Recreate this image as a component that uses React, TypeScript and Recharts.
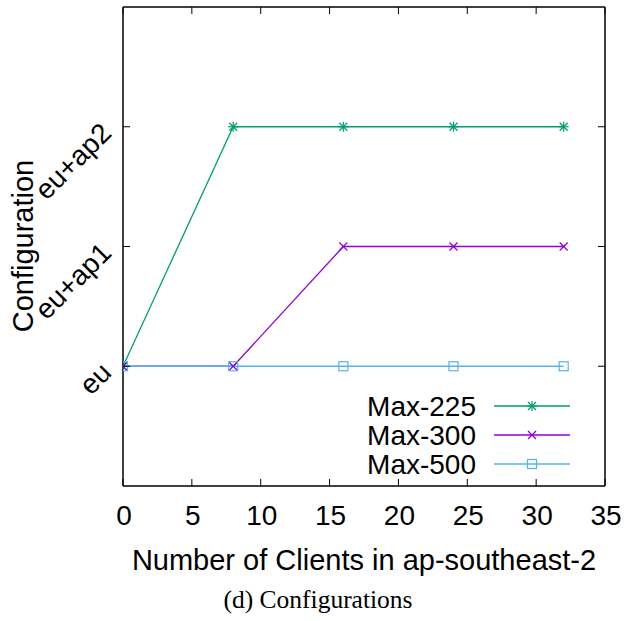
import { CartesianGrid, Line, LineChart, XAxis, YAxis } from "recharts";

// Clients placed in ap-southeast-2 and the configuration chosen for each cap.
const CLIENTS = [0, 8, 16, 24, 32];
const MAX_225 = [0, 2, 2, 2, 2];
const MAX_300 = [0, 0, 1, 1, 1];
const MAX_500 = [0, 0, 0, 0, 0];

const X_TICKS = [0, 5, 10, 15, 20, 25, 30, 35];
const CONFIG_TICKS = [0, 1, 2];
const CONFIG_LABELS = ["eu", "eu+ap1", "eu+ap2"];

type MarkerKind = "star" | "cross" | "square";

const SERIES: Array<{ key: string; name: string; color: string; marker: MarkerKind }> = [
  { key: "m225", name: "Max-225", color: "#009e73", marker: "star" },
  { key: "m300", name: "Max-300", color: "#9400d3", marker: "cross" },
  { key: "m500", name: "Max-500", color: "#56b4e9", marker: "square" },
];

const data = CLIENTS.map((c, i) => ({
  clients: c,
  m225: MAX_225[i],
  m300: MAX_300[i],
  m500: MAX_500[i],
}));

const W = 637;
const H = 621;
// each axis takes 1px, so margins are one short of the frame position
const MARGIN = { top: 6, right: 31, left: 122, bottom: 134 };
const PLOT_LEFT = 123;
const PLOT_RIGHT = W - 32;
const SANS = '"Liberation Sans", Arial, Helvetica, sans-serif';
const TICK_LEN = 7;
const FRAME = { stroke: "#000", strokeWidth: 1.5 };

function Marker({ kind, x, y, color }: { kind: MarkerKind; x: number; y: number; color: string }) {
  const s = 4;
  if (kind === "square") {
    return <rect x={x - 4.5} y={y - 4.5} width={9} height={9} fill="none" stroke={color} strokeWidth={1.2} />;
  }
  const cross = (
    <>
      <line x1={x - s} y1={y - s} x2={x + s} y2={y + s} stroke={color} strokeWidth={1.2} />
      <line x1={x - s} y1={y + s} x2={x + s} y2={y - s} stroke={color} strokeWidth={1.2} />
    </>
  );
  if (kind === "cross") return <g>{cross}</g>;
  return (
    <g>
      {cross}
      <line x1={x - s - 1} y1={y} x2={x + s + 1} y2={y} stroke={color} strokeWidth={1.2} />
      <line x1={x} y1={y - s - 1} x2={x} y2={y + s + 1} stroke={color} strokeWidth={1.2} />
    </g>
  );
}

const makeDot = (kind: MarkerKind, color: string) => (props: any) => {
  const { cx, cy, index } = props;
  if (cx == null || cy == null) return <g key={index} />;
  return <Marker key={index} kind={kind} x={cx} y={cy} color={color} />;
};

// Bottom axis: inward tick plus label underneath.
function BottomTick(props: any) {
  const { x, y, payload } = props;
  return (
    <g>
      <line x1={x} y1={y} x2={x} y2={y - TICK_LEN} stroke="#000" strokeWidth={1} />
      <text x={x + 1} y={y + 39} textAnchor="middle" fontFamily={SANS} fontSize={28} fill="#000">
        {payload.value}
      </text>
    </g>
  );
}

function TopTick(props: any) {
  const { x, y } = props;
  return <line x1={x} y1={y} x2={x} y2={y + TICK_LEN} stroke="#000" strokeWidth={1} />;
}

function LeftTick(props: any) {
  const { x, y, payload } = props;
  const lx = x - 10;
  const ly = y + 8;
  return (
    <g>
      <line x1={x} y1={y} x2={x + TICK_LEN} y2={y} stroke="#000" strokeWidth={1} />
      <text
        x={lx}
        y={ly}
        textAnchor="end"
        fontFamily={SANS}
        fontSize={28}
        fill="#000"
        transform={`rotate(-45 ${lx} ${ly})`}
      >
        {CONFIG_LABELS[payload.value] ?? ""}
      </text>
    </g>
  );
}

function RightTick(props: any) {
  const { x, y } = props;
  return <line x1={x} y1={y} x2={x - TICK_LEN} y2={y} stroke="#000" strokeWidth={1} />;
}

function KeyBox() {
  const textX = 476;
  const lineX1 = 494;
  const lineX2 = 570;
  return (
    <g>
      {SERIES.map((s, i) => {
        const y = 406 + i * 29;
        return (
          <g key={s.key}>
            <text x={textX} y={y + 10} textAnchor="end" fontFamily={SANS} fontSize={28} fill="#000">
              {s.name}
            </text>
            <line x1={lineX1} y1={y} x2={lineX2} y2={y} stroke={s.color} strokeWidth={1.3} />
            <Marker kind={s.marker} x={(lineX1 + lineX2) / 2} y={y} color={s.color} />
          </g>
        );
      })}
    </g>
  );
}

function Titles() {
  return (
    <g>
      <text
        x={(PLOT_LEFT + PLOT_RIGHT) / 2}
        y={570}
        textAnchor="middle"
        fontFamily={SANS}
        fontSize={29}
        fill="#000"
      >
        Number of Clients in ap-southeast-2
      </text>
      <text
        x={33}
        y={246}
        textAnchor="middle"
        fontFamily={SANS}
        fontSize={29}
        fill="#000"
        transform="rotate(-90 33 246)"
      >
        Configuration
      </text>
      <text
        x={318}
        y={608}
        textAnchor="middle"
        fontFamily='"Liberation Serif", "Times New Roman", serif'
        fontSize={25.5}
        fill="#000"
      >
        (d) Configurations
      </text>
    </g>
  );
}

export default function App() {
  return (
    <div style={{ position: "absolute", left: 0, top: 0, width: W, height: H, background: "#fff" }}>
      <LineChart width={W} height={H} data={data} margin={MARGIN}>
        <CartesianGrid stroke="none" />
        <XAxis
          xAxisId="bottom"
          dataKey="clients"
          type="number"
          domain={[0, 35]}
          ticks={X_TICKS}
          allowDataOverflow
          height={1}
          tickSize={0}
          tickMargin={0}
          tickLine={false}
          axisLine={FRAME}
          tick={<BottomTick />}
          interval={0}
        />
        <XAxis
          xAxisId="top"
          orientation="top"
          dataKey="clients"
          type="number"
          domain={[0, 35]}
          ticks={X_TICKS}
          allowDataOverflow
          height={1}
          tickSize={0}
          tickMargin={0}
          tickLine={false}
          axisLine={FRAME}
          tick={<TopTick />}
          interval={0}
        />
        <YAxis
          yAxisId="left"
          type="number"
          domain={[-1, 3]}
          ticks={CONFIG_TICKS}
          allowDataOverflow
          width={1}
          tickSize={0}
          tickMargin={0}
          tickLine={false}
          axisLine={FRAME}
          tick={<LeftTick />}
          interval={0}
        />
        <YAxis
          yAxisId="right"
          orientation="right"
          type="number"
          domain={[-1, 3]}
          ticks={CONFIG_TICKS}
          allowDataOverflow
          width={1}
          tickSize={0}
          tickMargin={0}
          tickLine={false}
          axisLine={FRAME}
          tick={<RightTick />}
          interval={0}
        />
        {SERIES.map((s) => (
          <Line
            key={s.key}
            xAxisId="bottom"
            yAxisId="left"
            type="linear"
            dataKey={s.key}
            name={s.name}
            stroke={s.color}
            strokeWidth={1.3}
            dot={makeDot(s.marker, s.color)}
            activeDot={false}
            isAnimationActive={false}
          />
        ))}
        <KeyBox />
        <Titles />
      </LineChart>
    </div>
  );
}
